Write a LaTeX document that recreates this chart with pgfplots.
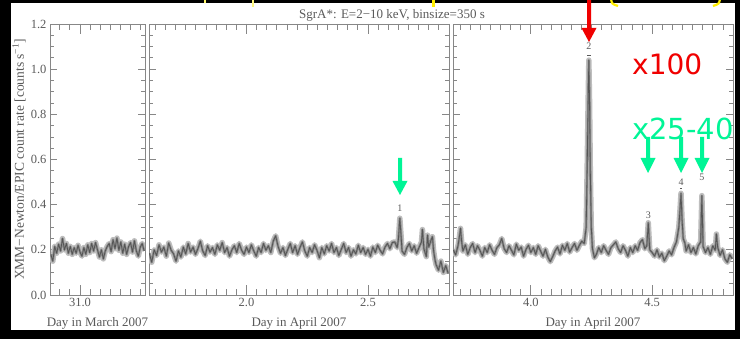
\documentclass[border=0pt]{standalone}
\usepackage{fontspec}
\usepackage{pgfplots}
\usepackage{pgfplotstable}
\pgfplotsset{compat=1.18}
\setmainfont{Liberation Serif}
\newfontfamily\annfont{DejaVu Sans}

\definecolor{axgray}{RGB}{135,135,135}
\definecolor{txtgray}{RGB}{90,90,90}
\definecolor{bandgray}{RGB}{190,190,190}
\definecolor{midgray}{RGB}{140,140,140}
\definecolor{coregray}{RGB}{85,85,85}
\definecolor{flaregreen}{RGB}{0,245,150}
\definecolor{flarered}{RGB}{240,0,0}
\definecolor{slideyellow}{RGB}{255,238,0}

% light curve, 30-31 March 2007
\pgfplotstableread{
t y
30.880 0.180
30.888 0.150
30.896 0.215
30.904 0.185
30.912 0.225
30.920 0.195
30.928 0.250
30.936 0.200
30.944 0.228
30.952 0.185
30.960 0.215
30.968 0.180
30.976 0.210
30.984 0.185
30.992 0.220
31.000 0.190
31.008 0.172
31.016 0.210
31.024 0.180
31.032 0.222
31.040 0.188
31.048 0.228
31.056 0.195
31.064 0.232
31.072 0.200
31.080 0.168
31.088 0.200
31.096 0.160
31.104 0.195
31.112 0.215
31.120 0.228
31.128 0.192
31.136 0.245
31.144 0.205
31.152 0.252
31.160 0.198
31.168 0.235
31.176 0.185
31.184 0.225
31.192 0.180
31.200 0.215
31.208 0.232
31.216 0.190
31.224 0.240
31.232 0.195
31.240 0.172
31.248 0.212
31.256 0.228
31.264 0.195
}\lcmarch

% light curve, 1-2 April 2007
\pgfplotstableread{
t y
1.60 0.185
1.61 0.145
1.62 0.200
1.63 0.175
1.64 0.222
1.65 0.190
1.66 0.212
1.67 0.172
1.68 0.230
1.69 0.198
1.70 0.182
1.71 0.150
1.72 0.195
1.73 0.168
1.74 0.212
1.75 0.182
1.76 0.228
1.77 0.190
1.78 0.212
1.79 0.180
1.80 0.205
1.81 0.238
1.82 0.195
1.83 0.175
1.84 0.218
1.85 0.190
1.86 0.210
1.87 0.180
1.88 0.222
1.89 0.198
1.90 0.232
1.91 0.188
1.92 0.210
1.93 0.172
1.94 0.200
1.95 0.218
1.96 0.188
1.97 0.228
1.98 0.198
1.99 0.180
2.00 0.212
2.01 0.188
2.02 0.222
2.03 0.195
2.04 0.172
2.05 0.210
2.06 0.188
2.07 0.228
2.08 0.198
2.09 0.218
2.10 0.188
2.11 0.238
2.12 0.262
2.13 0.215
2.14 0.185
2.15 0.210
2.16 0.175
2.17 0.202
2.18 0.228
2.19 0.188
2.20 0.218
2.21 0.180
2.22 0.210
2.23 0.235
2.24 0.195
2.25 0.172
2.26 0.210
2.27 0.188
2.28 0.222
2.29 0.198
2.30 0.165
2.31 0.210
2.32 0.182
2.33 0.218
2.34 0.195
2.35 0.228
2.36 0.188
2.37 0.210
2.38 0.175
2.39 0.202
2.40 0.228
2.41 0.188
2.42 0.210
2.43 0.172
2.44 0.200
2.45 0.182
2.46 0.220
2.47 0.188
2.48 0.210
2.49 0.180
2.50 0.202
2.51 0.172
2.52 0.212
2.53 0.188
2.54 0.220
2.55 0.198
2.56 0.182
2.57 0.212
2.58 0.228
2.59 0.205
2.60 0.232
2.61 0.235
2.62 0.210
2.625 0.245
2.631 0.340
2.637 0.248
2.64 0.195
2.65 0.180
2.66 0.210
2.67 0.228
2.68 0.195
2.69 0.218
2.70 0.185
2.71 0.210
2.72 0.235
2.724 0.290
2.73 0.205
2.74 0.170
2.745 0.265
2.75 0.212
2.76 0.245
2.765 0.258
2.77 0.195
2.775 0.160
2.78 0.135
2.79 0.110
2.80 0.150
2.81 0.100
2.82 0.130
2.83 0.095
}\lcaprila

% light curve, 3-4 April 2007
\pgfplotstableread{
t y
3.68 0.200
3.69 0.178
3.70 0.220
3.705 0.255
3.71 0.295
3.715 0.232
3.72 0.195
3.73 0.222
3.74 0.180
3.75 0.210
3.76 0.228
3.77 0.188
3.78 0.218
3.79 0.198
3.80 0.172
3.81 0.210
3.82 0.188
3.83 0.222
3.84 0.198
3.85 0.180
3.86 0.210
3.87 0.222
3.88 0.250
3.89 0.205
3.90 0.188
3.91 0.218
3.92 0.198
3.93 0.178
3.94 0.225
3.95 0.198
3.96 0.212
3.97 0.172
3.98 0.202
3.99 0.220
4.00 0.188
4.01 0.210
4.02 0.180
4.03 0.218
4.04 0.195
4.05 0.172
4.06 0.202
4.07 0.168
4.08 0.148
4.09 0.170
4.10 0.195
4.11 0.212
4.12 0.182
4.13 0.220
4.14 0.198
4.15 0.228
4.16 0.190
4.17 0.210
4.18 0.228
4.19 0.198
4.20 0.220
4.21 0.238
4.220 0.228
4.228 0.300
4.232 0.550
4.236 0.850
4.239 1.040
4.242 0.850
4.245 0.550
4.249 0.300
4.254 0.205
4.262 0.165
4.27 0.180
4.28 0.210
4.29 0.188
4.30 0.218
4.31 0.198
4.32 0.180
4.33 0.210
4.34 0.222
4.35 0.235
4.36 0.205
4.37 0.188
4.38 0.218
4.39 0.198
4.40 0.172
4.41 0.210
4.42 0.188
4.43 0.218
4.44 0.198
4.45 0.232
4.46 0.245
4.47 0.205
4.478 0.218
4.484 0.320
4.49 0.200
4.50 0.188
4.51 0.172
4.52 0.200
4.53 0.168
4.54 0.185
4.55 0.152
4.56 0.172
4.57 0.195
4.58 0.178
4.59 0.210
4.60 0.235
4.61 0.300
4.615 0.380
4.619 0.450
4.623 0.340
4.628 0.250
4.635 0.230
4.64 0.195
4.65 0.222
4.66 0.188
4.67 0.210
4.68 0.182
4.69 0.218
4.70 0.235
4.705 0.440
4.71 0.215
4.72 0.188
4.73 0.210
4.74 0.180
4.75 0.218
4.76 0.198
4.765 0.270
4.77 0.212
4.78 0.175
4.79 0.200
4.80 0.160
4.81 0.145
4.82 0.178
4.83 0.160
}\lcaprilb

\pgfplotsset{
  lcpanel/.style={
    scale only axis, height=271pt,
    anchor=south west,
    ymin=0, ymax=1.2,
    ytick={0,0.2,0.4,0.6,0.8,1.0,1.2},
    minor y tick num=3,
    yticklabel={\pgfmathprintnumber[fixed,fixed zerofill,precision=1]{\tick}},
    xticklabel={\pgfmathprintnumber[fixed,fixed zerofill,precision=1]{\tick}},
    /pgf/number format/assume math mode=true,
    axis line style={axgray, line width=0.9pt},
    tick style={axgray, line width=0.8pt},
    xtick style={/pgfplots/major tick length=10pt, /pgfplots/minor tick length=6pt},
    ytick style={/pgfplots/major tick length=7pt, /pgfplots/minor tick length=4pt},
    tick label style={font=\fontsize{12.5}{14}\selectfont, text=txtgray},
    label style={font=\fontsize{13}{15}\selectfont, text=txtgray},
    xlabel style={at={(axis description cs:0.5,0)}, anchor=center, yshift=-28pt},
    clip=true,
  },
  % the light curve is drawn as a soft band with a darker centre line
  band/.style={bandgray, line width=5.5pt, line join=round, mark=none, forget plot},
  mid/.style={midgray, line width=2.4pt, line join=round, mark=none},
  core/.style={coregray, line width=0.8pt, line join=round, mark=none},
}
\tikzset{flarelbl/.style={font=\fontsize{10}{12}\selectfont, text=txtgray}}

\begin{document}
\begin{tikzpicture}
\useasboundingbox (0pt,0pt) rectangle (740pt,339pt);
\fill[black] (0pt,0pt) rectangle (740pt,339pt);
\fill[white] (11pt,9pt) rectangle (735pt,336pt);

% left panel: March
\begin{axis}[lcpanel, at={(50pt,44pt)}, width=95pt,
  xmin=30.8765, xmax=31.2675,
  xtick={31.0},
  minor xtick={30.916667,30.958333,...,31.26},
  xlabel={Day in March 2007},
  ylabel={XMM−Newton/EPIC count rate [counts s\textsuperscript{−1}]},
  ylabel style={at={(axis description cs:-0.326,0.5)}, anchor=center,
    font=\fontsize{13.5}{15}\selectfont},
]
\addplot[band] table[x=t,y=y] {\lcmarch};
\addplot[mid] table[x=t,y=y] {\lcmarch};
\addplot[core] table[x=t,y=y] {\lcmarch};
\end{axis}

% middle panel: 1-2 April
\begin{axis}[lcpanel, at={(149pt,44pt)}, width=300pt,
  xmin=1.5988, xmax=2.8333,
  xtick={2.0,2.5},
  minor xtick={1.625,1.666667,...,2.83},
  yticklabels={},
  xlabel={Day in April 2007},
]
\addplot[band] table[x=t,y=y] {\lcaprila};
\addplot[mid] table[x=t,y=y] {\lcaprila};
\addplot[core] table[x=t,y=y] {\lcaprila};
\node[flarelbl] at (axis cs:2.631,0.385) {1};
\end{axis}

% right panel: 3-4 April
\begin{axis}[lcpanel, at={(453pt,44pt)}, width=280pt,
  xmin=3.679, xmax=4.8333,
  xtick={4.0,4.5},
  minor xtick={3.708333,3.75,...,4.83},
  yticklabels={},
  xlabel={Day in April 2007},
]
\addplot[band] table[x=t,y=y] {\lcaprilb};
\addplot[mid] table[x=t,y=y] {\lcaprilb};
\addplot[core] table[x=t,y=y] {\lcaprilb};
\node[flarelbl] at (axis cs:4.239,1.10) {2};
\draw[txtgray, line width=0.8pt] (axis cs:4.232,1.063) -- (axis cs:4.246,1.063);
\node[flarelbl] at (axis cs:4.484,0.355) {3};
\node[flarelbl] at (axis cs:4.619,0.50) {4};
\draw[txtgray, line width=0.8pt] (axis cs:4.614,0.472) -- (axis cs:4.624,0.472);
\node[flarelbl] at (axis cs:4.705,0.52) {5};
\end{axis}

% title
\node[font=\fontsize{13}{15}\selectfont, text=txtgray] at (392pt,324pt)
  {SgrA*: E=2−10 keV, binsize=350 s};

% arrows marking the flares
\fill[flaregreen] (398pt,181pt) rectangle (402pt,158pt)
  (392.5pt,158pt) -- (407.5pt,158pt) -- (400pt,144pt) -- cycle;
\fill[flarered] (587pt,345pt) rectangle (591pt,311pt)
  (581.5pt,311pt) -- (596.5pt,311pt) -- (589pt,297pt) -- cycle;
\foreach \ax in {648,681,702}{
  \fill[flaregreen] (\ax pt-2pt,202pt) rectangle (\ax pt+2pt,181pt)
    (\ax pt-7.5pt,181pt) -- (\ax pt+7.5pt,181pt) -- (\ax pt,166pt) -- cycle;
}
\node[anchor=base west, inner sep=0pt, text=flarered, font=\annfont\fontsize{28}{30}\selectfont]
  at (632pt,264pt) {x100};
\node[anchor=base west, inner sep=0pt, text=flaregreen, font=\annfont\fontsize{29}{31}\selectfont]
  at (632pt,199pt) {x25-40};

% cut-off slide text above the figure
\draw[slideyellow!60, line width=2pt] (205pt,341pt) -- (205pt,336pt);
\draw[slideyellow!50, line width=2pt] (253pt,341pt) -- (253pt,332pt);
\draw[slideyellow, line width=3pt] (433pt,341pt) -- (433pt,332pt);
\draw[slideyellow, line width=2.2pt] (611pt,340pt) .. controls (612pt,335pt) .. (618pt,333pt);
\draw[slideyellow, line width=2.2pt] (720pt,340pt) .. controls (719pt,335pt) .. (713pt,333pt);
\end{tikzpicture}
\end{document}
